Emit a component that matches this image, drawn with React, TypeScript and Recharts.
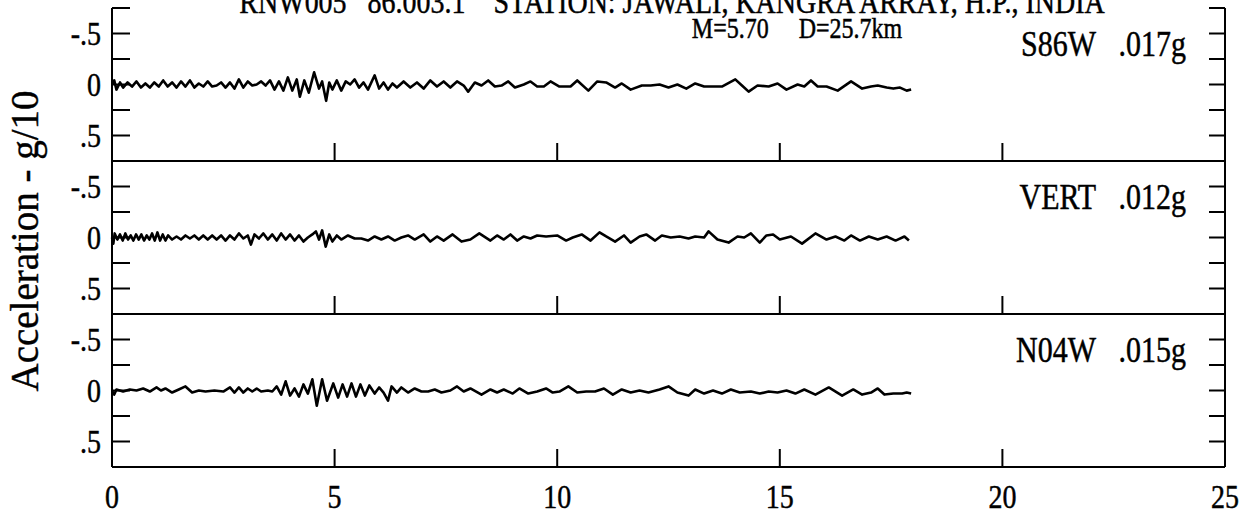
import { LineChart, Line, XAxis, YAxis, ReferenceLine } from "recharts"

const title = "RNW005   86.003.1    STATION: JAWALI, KANGRA ARRAY, H.P., INDIA"
const subtitle = "M=5.70     D=25.7km"
const yLabel = "Acceleration - g/10"

const xTicks = [0, 5, 10, 15, 20, 25]
const yTicks = [-0.75, -0.5, -0.25, 0, 0.25, 0.5]
const yTickLabels: Record<string, string> = { "-0.5": "-.5", "0": "0", "0.5": ".5" }

const channelNames = ["S86W", "VERT", "N04W"]
const channelPeaks = [".017g", ".012g", ".015g"]

// S86W
const s86wTime = [
  0, 0.05, 0.1, 0.18, 0.25, 0.35, 0.45, 0.55, 0.65, 0.75, 0.85, 0.95, 1.05, 1.15, 1.25, 1.35, 1.45, 1.55, 1.65, 1.75,
  1.85, 1.95, 2.05, 2.15, 2.25, 2.35, 2.45, 2.55, 2.65, 2.75, 2.85, 2.95, 3.05, 3.15, 3.25, 3.35, 3.45, 3.55, 3.65,
  3.75, 3.85, 3.95, 4.05, 4.15, 4.22, 4.32, 4.42, 4.54, 4.65, 4.72, 4.81, 4.88, 4.95, 5.05, 5.15, 5.25, 5.35, 5.45,
  5.55, 5.65, 5.75, 5.9, 6.0, 6.1, 6.2, 6.3, 6.4, 6.55, 6.7, 6.85, 7.0, 7.15, 7.3, 7.45, 7.6, 7.75, 7.9, 8.0, 8.15,
  8.3, 8.45, 8.6, 8.75, 8.9, 9.05, 9.25, 9.4, 9.55, 9.7, 9.85, 10.05, 10.3, 10.45, 10.7, 10.9, 11.1, 11.3, 11.45,
  11.65, 11.9, 12.1, 12.3, 12.5, 12.7, 12.9, 13.1, 13.3, 13.5, 13.7, 14.0, 14.15, 14.3, 14.5, 14.75, 14.95, 15.15,
  15.4, 15.55, 15.7, 15.85, 16.05, 16.3, 16.6, 16.85, 17.05, 17.2, 17.4, 17.55, 17.7, 17.85, 17.95,
]
const s86wAcc = [
  0, -0.04, 0.05, -0.02, 0.03, -0.02, 0.02, -0.03, 0.03, -0.01, 0.03, -0.02, 0.02, -0.04, 0.02, -0.02, 0.03, -0.03,
  0.02, -0.04, 0.03, -0.01, 0.02, -0.03, 0.02, 0.01, -0.02, 0.03, -0.02, 0.04, -0.05, 0.03, -0.03, 0.01, 0, -0.03,
  0.01, -0.04, 0.05, -0.03, 0.06, -0.07, 0.06, -0.05, 0.12, -0.04, 0.08, -0.12, 0.04, -0.03, 0.16, -0.02, 0.05,
  -0.04, 0.06, -0.03, 0, -0.05, 0.03, -0.02, 0.05, -0.09, 0.04, -0.02, 0.05, -0.01, 0.03, -0.03, 0.03, -0.02, 0.04,
  -0.04, 0.02, -0.03, 0.03, -0.03, 0.01, 0.07, -0.02, 0.01, -0.04, 0.02, 0.01, -0.03, 0.03, 0, -0.03, 0.02, 0.02,
  -0.03, 0.02, 0.02, -0.04, 0.06, -0.03, -0.02, 0.03, -0.01, 0.05, 0.01, 0.01, 0, 0.03, 0, 0.04, -0.01, 0.02, 0.02,
  0.02, -0.05, 0.01, 0.07, 0.01, 0.02, -0.01, 0.05, 0, 0.02, -0.04, 0.02, 0.02, 0.06, -0.03, 0.04, 0.02, 0.01, 0.03,
  0.04, 0.03, 0.06, 0.05,
]

// VERT
const vertTime = [
  0, 0.03, 0.06, 0.12, 0.18, 0.24, 0.3, 0.36, 0.42, 0.48, 0.54, 0.6, 0.66, 0.72, 0.78, 0.84, 0.9, 0.96, 1.02, 1.08,
  1.14, 1.2, 1.26, 1.35, 1.45, 1.55, 1.65, 1.75, 1.85, 1.95, 2.05, 2.15, 2.25, 2.35, 2.45, 2.55, 2.65, 2.75, 2.85,
  2.95, 3.05, 3.12, 3.2, 3.3, 3.4, 3.5, 3.6, 3.7, 3.8, 3.9, 4.0, 4.1, 4.2, 4.3, 4.4, 4.5, 4.58, 4.65, 4.72, 4.8,
  4.88, 4.95, 5.05, 5.15, 5.3, 5.45, 5.6, 5.75, 5.9, 6.05, 6.2, 6.35, 6.5, 6.65, 6.8, 7.0, 7.15, 7.3, 7.45, 7.65,
  7.85, 8.05, 8.25, 8.5, 8.65, 8.8, 8.95, 9.1, 9.25, 9.4, 9.55, 9.75, 10.0, 10.2, 10.35, 10.55, 10.75, 10.95, 11.1,
  11.3, 11.5, 11.65, 11.85, 12.0, 12.2, 12.35, 12.55, 12.75, 12.95, 13.1, 13.3, 13.4, 13.6, 13.85, 14.05, 14.2,
  14.35, 14.55, 14.7, 14.85, 15.0, 15.25, 15.5, 15.8, 16.05, 16.25, 16.45, 16.6, 16.8, 17.0, 17.2, 17.4, 17.6,
  17.8, 17.9,
]
const vertAcc = [
  0, 0.06, -0.04, 0.02, -0.03, 0.03, -0.04, 0.02, -0.02, 0.03, -0.03, 0.02, -0.03, 0.03, -0.02, 0.02, -0.04, 0.03,
  -0.05, 0.03, -0.03, 0.03, -0.02, 0.02, -0.01, 0.02, -0.02, 0.01, -0.02, 0.02, -0.02, 0.02, -0.02, 0.02, -0.02,
  0.03, -0.02, 0.02, -0.04, 0.01, -0.02, 0.07, -0.03, 0.01, -0.04, 0.02, -0.03, 0.03, -0.04, 0.02, -0.03, 0.03,
  -0.02, 0.04, 0, -0.03, -0.06, 0.02, -0.07, 0.09, -0.03, 0.04, -0.02, 0.02, -0.02, 0.01, 0.01, 0.03, -0.01, 0.02,
  -0.01, 0.03, 0, -0.02, 0.02, -0.03, 0.04, -0.01, 0.03, -0.03, 0.04, 0.02, -0.04, 0.03, -0.02, 0.02, -0.03, 0.03,
  -0.01, 0.01, -0.02, -0.01, -0.02, 0.03, 0, -0.03, 0.03, -0.05, -0.01, 0.04, -0.02, 0.05, -0.01, -0.03, 0.03,
  -0.02, 0, -0.01, 0.01, -0.01, 0, -0.06, 0.02, 0.05, -0.01, 0, -0.04, 0.05, -0.02, -0.03, 0.02, -0.01, 0.06,
  -0.04, 0.02, -0.01, 0.03, -0.02, 0.03, -0.01, 0.02, -0.01, 0.03, -0.01, 0.03,
]

// N04W
const n04wTime = [
  0, 0.05, 0.1, 0.25, 0.4, 0.55, 0.7, 0.85, 1.0, 1.1, 1.2, 1.35, 1.5, 1.65, 1.8, 1.95, 2.1, 2.3, 2.5, 2.65, 2.75,
  2.85, 2.95, 3.05, 3.15, 3.25, 3.35, 3.5, 3.6, 3.7, 3.8, 3.9, 4.0, 4.1, 4.2, 4.3, 4.4, 4.5, 4.6, 4.72, 4.83, 4.97,
  5.08, 5.18, 5.28, 5.38, 5.48, 5.58, 5.68, 5.78, 5.9, 6.0, 6.1, 6.2, 6.28, 6.4, 6.5, 6.65, 6.8, 6.95, 7.1, 7.25,
  7.4, 7.6, 7.75, 7.9, 8.05, 8.3, 8.5, 8.65, 8.8, 9.0, 9.15, 9.35, 9.55, 9.75, 9.9, 10.05, 10.25, 10.45, 10.65,
  10.85, 11.05, 11.25, 11.45, 11.65, 11.85, 12.05, 12.3, 12.5, 12.7, 12.95, 13.1, 13.3, 13.5, 13.7, 13.9, 14.1,
  14.35, 14.55, 14.75, 14.95, 15.15, 15.35, 15.55, 15.8, 16.1, 16.4, 16.65, 16.85, 17.05, 17.2, 17.35, 17.55,
  17.75, 17.85, 17.95,
]
const n04wAcc = [
  0, 0.04, -0.01, 0.01, -0.01, 0, -0.02, 0.01, -0.03, 0, -0.02, 0.02, -0.01, -0.04, 0.02, 0, 0.01, 0, 0.01, -0.03,
  0.02, -0.03, 0.02, -0.02, 0.01, -0.02, 0.01, 0, 0.01, -0.04, 0.04, -0.09, 0.05, -0.02, 0.06, -0.06, 0.03, -0.11,
  0.15, -0.11, 0.1, -0.07, 0.07, -0.06, 0.06, -0.07, 0.06, -0.06, 0.05, -0.05, 0.03, -0.03, 0.02, 0.1, -0.04,
  0.02, -0.03, 0.02, -0.02, 0.01, 0.01, -0.01, 0.02, 0, -0.04, 0.01, -0.02, 0.04, -0.01, 0.02, -0.01, 0.03, -0.02,
  0.03, 0.01, -0.02, 0.02, 0.01, -0.04, 0.02, 0.01, 0.01, -0.02, 0.04, -0.01, 0.02, 0, 0.02, -0.01, -0.04, 0.02,
  0.05, -0.01, 0.03, 0, 0.03, -0.01, 0.02, 0.01, 0.03, 0.01, 0.02, 0, 0.03, -0.01, 0.04, -0.03, 0.05, -0.01, 0.04,
  0.02, -0.02, 0.04, 0.03, 0.03, 0.02, 0.03,
]

const traceTimes = [s86wTime, vertTime, n04wTime]
const traceValues = [s86wAcc, vertAcc, n04wAcc]

const W = 1252
const H = 518
const LEFT = 112
const RIGHT = 27
const PLOT_W = W - LEFT - RIGHT
const PANEL_H = 153
const TOP0 = 7.5
const Y_AXIS_W = 60
const FONT = "'Liberation Serif', 'Times New Roman', serif"
const STRETCH = 1.2

// scanned-type look: glyphs a little taller than wide
function Txt({ x, y, anchor = "start", size = 28, children }: any) {
  return (
    <text
      transform={`translate(${x} ${y}) scale(1 ${STRETCH})`}
      textAnchor={anchor}
      fontSize={size}
      fontFamily={FONT}
      fill="#000"
      stroke="#000"
      strokeWidth={0.4}
      style={{ whiteSpace: "pre" }}
    >
      {children}
    </text>
  )
}

function YTick(props: any) {
  const { x, y, payload } = props
  const label = yTickLabels[String(payload.value)]
  return (
    <g>
      <line x1={x} x2={x + 18} y1={y} y2={y} stroke="#000" strokeWidth={2} />
      <line x1={x + PLOT_W - 16} x2={x + PLOT_W} y1={y} y2={y} stroke="#000" strokeWidth={2} />
      {label && (
        <Txt x={x - 11} y={y + 11} anchor="end" size={28}>
          {label}
        </Txt>
      )}
    </g>
  )
}

function makeXTick(showLabel: boolean) {
  return (props: any) => {
    const { x, y, payload } = props
    const inner = payload.value > 0 && payload.value < 25
    return (
      <g>
        {inner && <line x1={x} x2={x} y1={y} y2={y - 18} stroke="#000" strokeWidth={2} />}
        {showLabel && (
          <Txt x={x} y={y + 41} anchor="middle" size={28}>
            {String(payload.value)}
          </Txt>
        )}
      </g>
    )
  }
}

function Panel({ index }: { index: number }) {
  const last = index === 2
  const mt = 4
  const xh = last ? 52 : 30
  const data = traceTimes[index].map((t, i) => ({ t, a: traceValues[index][i] }))
  return (
    <div style={{ position: "absolute", left: 0, top: TOP0 + index * PANEL_H - mt }}>
      <LineChart
        width={W}
        height={PANEL_H + mt + xh}
        data={data}
        margin={{ top: mt, right: RIGHT, bottom: 0, left: LEFT - Y_AXIS_W }}
      >
        <XAxis
          type="number"
          dataKey="t"
          domain={[0, 25]}
          ticks={xTicks}
          interval={0}
          height={xh}
          tickSize={0}
          tickMargin={0}
          tickLine={false}
          axisLine={{ stroke: "#000", strokeWidth: 2.2 }}
          tick={makeXTick(last)}
        />
        <YAxis
          type="number"
          domain={[-0.75, 0.75]}
          reversed
          allowDataOverflow
          ticks={yTicks}
          interval={0}
          width={Y_AXIS_W}
          tickSize={0}
          tickMargin={0}
          tickLine={false}
          axisLine={{ stroke: "#000", strokeWidth: 2 }}
          tick={<YTick />}
        />
        <ReferenceLine x={25} stroke="#000" strokeWidth={2} />
        <Line
          type="linear"
          dataKey="a"
          stroke="#000"
          strokeWidth={2.6}
          strokeLinejoin="round"
          dot={false}
          isAnimationActive={false}
        />
      </LineChart>
    </div>
  )
}

export default function App() {
  return (
    <div style={{ position: "absolute", left: 0, top: 0, width: W, height: H, background: "#fff", overflow: "hidden" }}>
      {[0, 1, 2].map((i) => (
        <Panel key={i} index={i} />
      ))}
      <svg width={W} height={H} style={{ position: "absolute", left: 0, top: 0, pointerEvents: "none" }}>
        <Txt x={672} y={13} anchor="middle" size={28}>
          {title}
        </Txt>
        <Txt x={797} y={38} anchor="middle" size={24}>
          {subtitle}
        </Txt>
        {channelNames.map((name, i) => (
          <g key={name}>
            <Txt x={1096} y={TOP0 + i * PANEL_H + 48} anchor="end" size={30}>
              {name}
            </Txt>
            <Txt x={1186} y={TOP0 + i * PANEL_H + 48} anchor="end" size={30}>
              {channelPeaks[i]}
            </Txt>
          </g>
        ))}
        <text
          x={38}
          y={241}
          textAnchor="middle"
          fontSize={39}
          fontFamily={FONT}
          stroke="#000"
          strokeWidth={0.4}
          transform="rotate(-90 38 241)"
        >
          {yLabel}
        </text>
      </svg>
    </div>
  )
}
